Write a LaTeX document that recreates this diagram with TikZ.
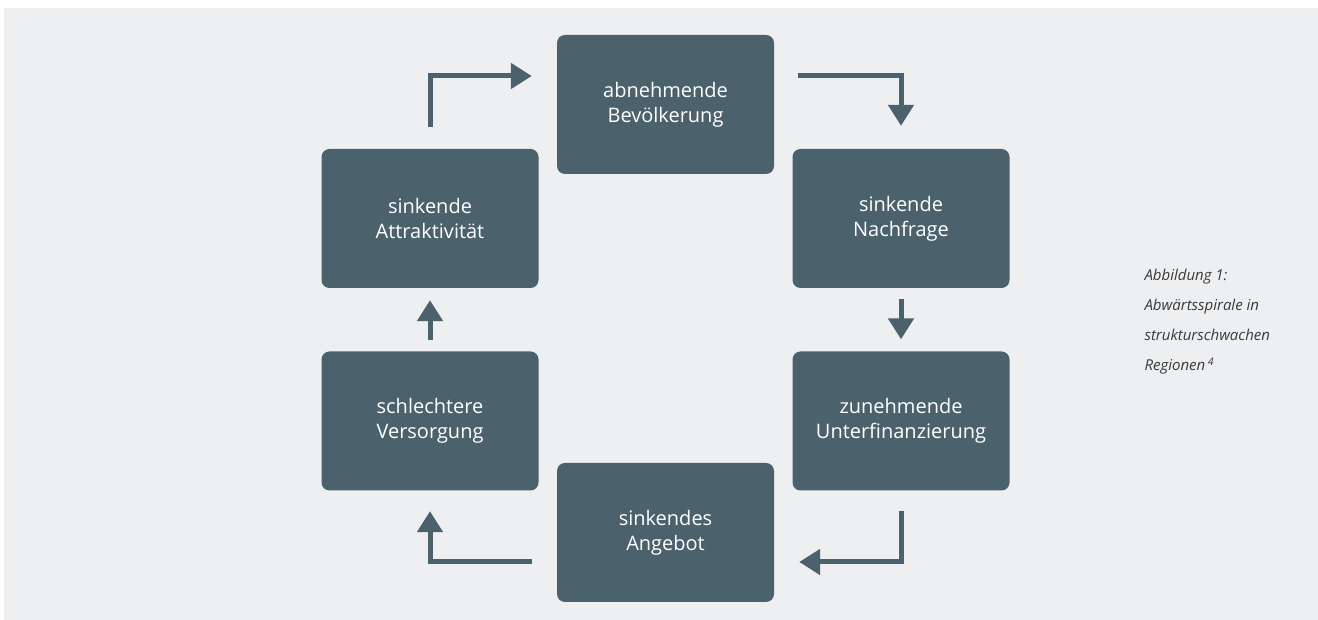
\documentclass[tikz,border=0pt]{standalone}
\usepackage{fontspec}
\setmainfont{Open Sans}
\usepackage{xcolor}
\usetikzlibrary{arrows.meta}

\definecolor{panelgray}{HTML}{EEEFF1}
\definecolor{slate}{HTML}{4B616C}
\definecolor{captiongray}{HTML}{3A3A3A}

\begin{document}
\begin{tikzpicture}[
  x=1pt, y=1pt,
  box/.style={fill=slate, rounded corners=8pt, align=center, text=white, minimum width=217pt, minimum height=139pt, inner sep=0pt, font=\fontsize{20}{25}\selectfont},
  flow/.style={-{Triangle[length=21pt, width=25pt]}, line width=5pt, draw=slate}
]
\useasboundingbox (0,0) rectangle (1318,620);
\fill[panelgray] (4,0) rectangle (1318,612);

\node[box] (bev) at (665.5,515.5) {abnehmende\\Bevölkerung};
\node[box] (nach) at (901,401.5) {sinkende\\Nachfrage};
\node[box] (unter) at (901,199) {zunehmende\\Unterfinanzierung};
\node[box] (ang) at (665.5,87.5) {sinkendes\\Angebot};
\node[box] (vers) at (430,199) {schlechtere\\Versorgung};
\node[box] (attr) at (430,401.5) {sinkende\\Attraktivität};

\draw[flow] ([yshift=22pt]attr.north) |- ([xshift=-25pt,yshift=28.5pt]bev.west);
\draw[flow] ([xshift=24pt,yshift=28.5pt]bev.east) -| ([yshift=23pt]nach.north);
\draw[flow] ([yshift=-11pt]nach.south) -- ([yshift=12pt]unter.north);
\draw[flow] ([yshift=-20.5pt]unter.south) |- ([xshift=25pt,yshift=-29.5pt]ang.east);
\draw[flow] ([xshift=-25pt,yshift=-29.5pt]ang.west) -| ([yshift=-20.5pt]vers.south);
\draw[flow] ([yshift=11pt]vers.north) -- ([yshift=-12pt]attr.south);

\node[anchor=west, align=left, text=captiongray, font=\fontsize{15}{30}\selectfont\itshape] (caption) at (1141,298)
  {Abbildung 1:\\Abwärtsspirale in\\strukturschwachen\\Regionen\,\textsuperscript{4}};
\end{tikzpicture}
\end{document}
